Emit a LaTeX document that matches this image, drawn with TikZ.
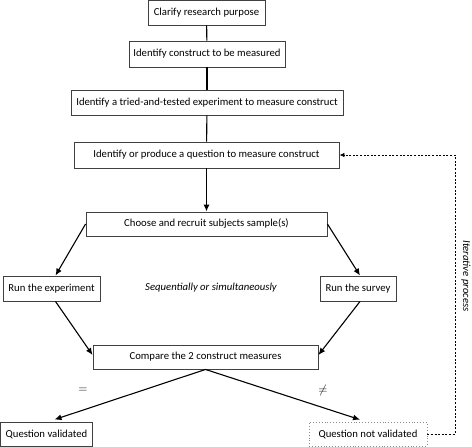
\documentclass[tikz,border=0pt]{standalone}
\usepackage{fontspec}
\setmainfont{Carlito}
\usetikzlibrary{arrows.meta,calc}
\begin{document}
\begin{tikzpicture}[x=1pt,y=-1pt,
  box/.style={draw=black!75,line width=0.9pt,fill=white,inner sep=0pt,font=\fontsize{10.7}{12}\selectfont,align=center},
  dbox/.style={box,draw=black!45,dotted,line width=0.7pt},
  conn/.style={line width=1.1pt},
  arr/.style={conn,-{Latex[length=7pt,width=6pt]}},
  fb/.style={line width=0.9pt,dash pattern=on 2pt off 1.6pt,-{Latex[length=5pt,width=4.5pt]}},
  lab/.style={font=\fontsize{10.7}{12}\selectfont\itshape},
  sym/.style={font=\fontsize{12}{14}\selectfont}]
\useasboundingbox (0,0) rectangle (472,447);
\node[box,minimum width=117pt,minimum height=25pt] (b1) at (206.5,12.5) {Clarify research purpose};
\node[box,minimum width=156pt,minimum height=26pt] (b2) at (207,54) {Identify construct to be measured};
\node[box,minimum width=272pt,minimum height=25pt] (b3) at (207,102.5) {Identify a tried-and-tested experiment to measure construct};
\node[box,minimum width=265pt,minimum height=26pt] (b4) at (206.5,155) {Identify or produce a question to measure construct};
\node[box,minimum width=241pt,minimum height=24pt] (b5) at (206.5,224) {Choose and recruit subjects sample(s)};
\node[box,minimum width=97pt,minimum height=25pt] (b6) at (51.5,288.5) {Run the experiment};
\node[box,minimum width=76pt,minimum height=25pt] (b7) at (358,288.5) {Run the survey};
\node[lab] (seq) at (211,288) {Sequentially or simultaneously};
\node[box,minimum width=225pt,minimum height=24pt] (b8) at (205.5,357) {Compare the 2 construct measures};
\node[box,minimum width=92pt,minimum height=24pt] (b9) at (46.5,434) {Question validated};
\node[dbox,minimum width=118pt,minimum height=24pt] (b10) at (368,434) {Question not validated};
\node[sym] (eq) at (83,390) {$=$};
\node[sym] (neq) at (323,390) {$\neq$};
\coordinate (c1) at (455,434);
\node[lab,rotate=-90] (iter) at (466,276) {Iterative process};
\draw[conn] (b1) -- (b2);
\draw[conn] (b2) -- (b3);
\draw[conn] (b3) -- (b4);
\draw[arr] (b4) -- (b5);
\draw[arr] (b5.west) -- ($(b6.north)+(4,0)$);
\draw[arr] (b5.east) -- ($(b7.north)+(2,0)$);
\draw[arr] ($(b6.south)+(4,0)$) -- ($(b8.west)+(0,-2)$);
\draw[arr] ($(b7.south)+(2,0)$) -- ($(b8.east)+(0,-2)$);
\draw[arr] (b8.south) -- ($(b9.north)+(8,-2)$);
\draw[arr] (b8.south) -- ($(b10.north)+(-8,-2)$);
\draw[fb] (b10.east) -- (c1) |- (b4.east);
\end{tikzpicture}
\end{document}
